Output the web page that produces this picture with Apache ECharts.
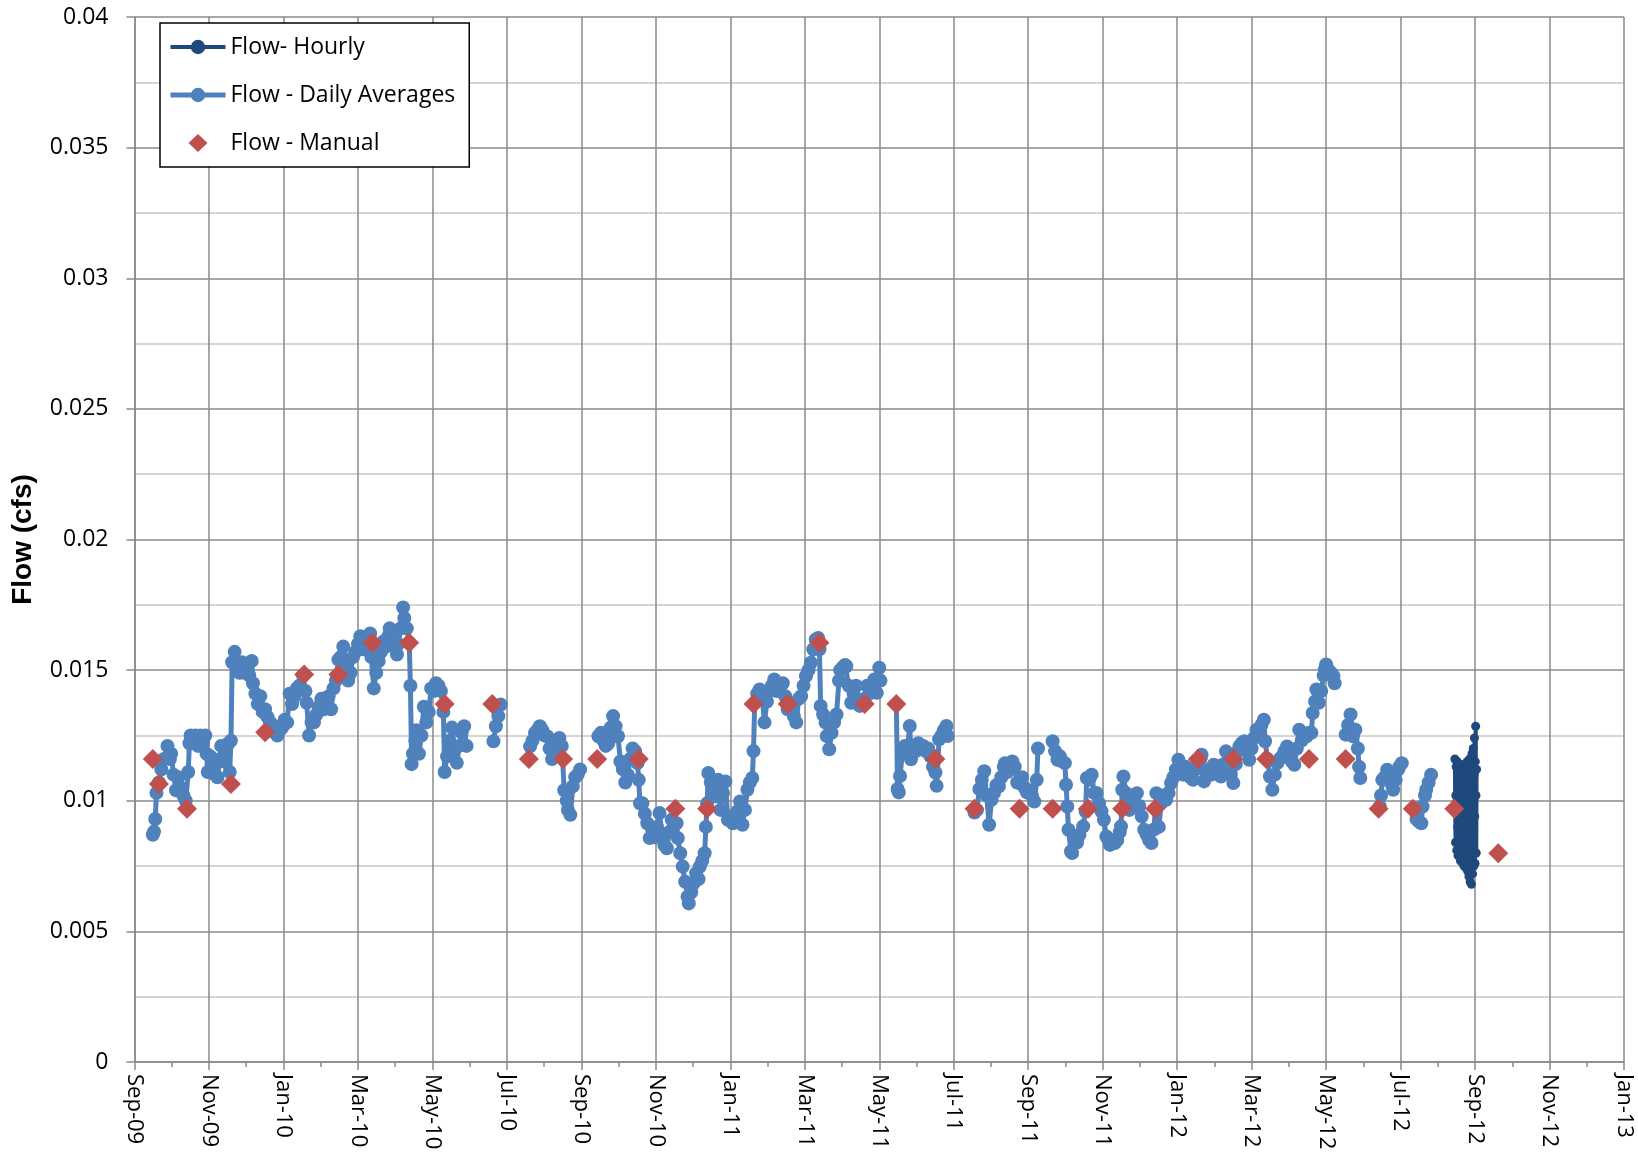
<!DOCTYPE html>
<html>
<head>
<meta charset="utf-8">
<script src="https://cdn.jsdelivr.net/npm/echarts@6/dist/echarts.min.js"></script>
<style>
  body { margin: 0; background: #fff; }
  #chart { width: 1638px; height: 1164px; }
</style>
</head>
<body>
<div id="chart"></div>
<script>
// x values are days counted from 1 Sep 2009, flows are read in thousandths of a cfs
var START = Date.UTC(2009, 8, 1)
var MONTHS = ["Jan","Feb","Mar","Apr","May","Jun","Jul","Aug","Sep","Oct","Nov","Dec"]
var SCALE = 0.001

// daily averages (null = no record, the line breaks there)
var dailyDay = [
  15,16,17,18,20,22,24,27,29,30,32,34,36,38,40,42,44,45,46,48,50,52,54,56,58,59,60,62,64,66,68,70,71,73,75,77,78,79,
  80,82,84,86,88,90,92,94,96,97,99,101,103,105,107,109,111,113,115,117,119,121,123,125,127,129,131,133,135,138,140,141,
  143,145,147,149,151,153,155,157,159,161,163,165,167,169,171,173,175,177,179,181,183,185,187,189,191,193,194,196,198,
  200,202,204,206,208,209,211,213,215,216,218,220,221,223,225,226,227,228,230,231,233,235,237,239,241,243,245,247,249,
  251,253,254,256,258,260,262,264,266,268,270,272,280,
  294,296,298,300,310,
  324,326,328,330,332,334,336,338,340,342,344,346,348,350,352,354,355,357,359,361,363,365,372,
  380,382,384,386,388,390,392,394,396,398,400,402,404,406,408,410,412,413,414,416,418,420,422,424,426,428,430,432,434,
  436,438,440,442,444,445,447,449,451,453,454,456,458,460,462,463,465,467,468,469,470,472,474,476,478,480,482,484,486,
  488,490,492,494,496,498,500,502,504,506,507,508,510,512,514,516,518,520,522,524,526,528,531,533,535,537,540,542,544,
  546,548,550,552,554,556,558,560,561,562,564,566,567,569,571,573,575,577,578,580,582,583,585,587,589,591,594,596,598,
  600,602,604,606,608,610,611,618,
  624,625,626,627,629,631,633,635,636,638,640,642,644,646,648,650,652,654,656,657,659,661,663,665,666,676,
  688,690,692,694,696,698,700,702,704,706,708,710,712,713,715,717,719,721,723,725,727,729,731,733,735,737,739,740,746,
  752,754,756,758,760,762,763,764,765,767,768,770,772,774,777,779,780,782,784,786,788,790,792,794,796,798,799,801,803,
  805,807,808,809,810,812,815,817,819,821,823,825,827,829,831,833,835,837,839,841,843,845,847,849,851,853,855,857,859,
  861,863,865,867,869,871,873,874,876,878,880,882,884,886,888,890,892,894,896,898,900,902,904,905,907,909,911,913,915,
  917,919,921,923,925,926,928,930,932,934,936,938,940,942,944,946,948,950,952,954,956,958,960,962,964,965,967,968,970,
  972,974,975,976,978,980,982,983,988,
  992,994,996,998,1000,1002,1003,1004,1012,
  1020,1021,1022,1024,1026,1028,1030,1031,1033,1035,1036,1038,1043,
  1048,1050,1052,1054,1055,1057,1058,1060,1062
]
var dailyFlow = [
  8.70,8.82,9.30,10.3,10.7,11.2,11.6,12.1,11.6,11.8,11.0,10.4,10.9,10.5,10.2,10.0,11.1,12.2,12.5,12.3,12.5,12.1,12.5,12.2,12.5,11.8,11.1,11.7,11.3,11.0,10.9,11.6,12.1,11.5,11.9,12.2,11.1,12.3,
  15.3,15.7,15.3,14.9,15.3,14.9,15.1,14.8,15.35,14.5,14.1,13.7,14.0,13.4,13.5,13.2,13.0,12.9,12.6,12.5,12.7,12.8,13.1,13.0,14.1,13.7,14.0,14.3,14.4,14.8,14.2,13.75,
  12.5,13.0,13.0,13.3,13.6,13.9,13.5,13.9,14.0,13.5,14.3,14.6,15.4,15.5,15.9,15.2,14.6,14.9,15.5,15.7,16.0,16.3,15.8,16.0,16.2,16.4,15.5,14.3,14.9,
  15.35,15.7,16.1,15.9,16.3,16.6,16.2,15.9,15.6,16.0,16.6,17.4,17.0,16.6,16.05,14.4,11.4,11.8,12.3,12.7,11.8,12.5,13.6,13.0,13.4,14.3,14.2,14.5,14.4,
  14.2,13.4,11.1,11.7,12.3,12.8,12.0,11.45,12.1,12.6,12.85,12.1,null,
  12.28,12.85,13.24,13.68,null,
  12.08,12.3,12.6,12.7,12.85,12.7,12.5,12.47,12.0,11.6,11.9,12.2,12.4,12.1,10.4,10.0,9.65,9.46,10.55,10.9,11.0,11.2,null,
  12.47,12.6,12.3,12.1,12.2,12.8,13.24,12.85,12.47,11.5,11.2,10.7,11.0,11.6,12.0,11.9,11.44,10.8,9.9,9.9,9.5,9.14,8.57,8.89,8.6,9.0,9.53,8.7,8.3,
  8.18,8.8,9.27,9.1,9.14,8.57,7.99,7.48,6.9,6.33,6.07,6.5,6.84,7.23,7.0,7.48,7.7,7.99,9.0,9.9,11.06,10.7,10.6,10.17,10.8,9.65,10.3,10.74,9.27,
  9.4,9.14,9.3,9.6,9.97,9.08,9.65,10.42,10.7,10.87,11.9,13.75,14.1,14.26,14.0,13.0,13.8,14.2,14.4,14.64,14.2,14.4,14.5,14.0,13.5,13.6,13.24,13.0,13.9,
  14.0,14.4,14.77,15.0,15.28,15.8,16.17,16.23,15.8,13.63,13.3,12.99,12.48,11.97,12.6,13.0,13.3,14.6,15.0,15.1,15.2,15.15,14.4,13.75,14.1,14.4,13.63,13.8,13.9,
  14.4,14.1,14.2,14.64,14.13,15.09,14.6,null,
  13.7,10.45,10.32,10.95,11.84,12.1,12.0,12.86,11.59,12.1,11.9,12.2,12.0,12.1,11.9,12.0,11.7,11.3,11.08,10.57,12.35,12.5,12.7,12.86,12.48,null,
  9.55,9.65,10.45,10.8,11.13,10.2,9.08,10.04,10.3,10.6,10.55,10.9,11.3,11.44,11.1,11.3,11.5,11.3,10.7,10.68,10.9,10.5,10.32,10.4,10.2,9.97,10.8,12.0,null,
  12.28,11.9,11.57,11.7,11.5,11.44,10.61,9.78,8.89,8.06,8.0,8.63,8.4,8.7,9.02,9.6,10.87,10.8,11.0,10.29,10.3,9.91,9.6,9.27,8.63,8.5,8.31,8.5,8.38,
  8.5,8.8,9.02,10.42,10.93,10.3,9.65,9.9,10.0,10.29,9.8,9.4,8.89,8.7,8.5,8.38,8.9,10.29,9.0,9.91,10.2,10.04,10.3,10.68,10.9,11.2,11.57,11.2,11.0,
  11.3,11.1,10.9,10.8,11.2,11.4,11.6,11.76,10.74,11.0,11.2,11.0,11.38,11.2,11.0,10.93,11.4,11.89,11.3,11.0,10.68,11.4,11.9,12.08,12.2,12.28,11.9,11.57,12.0,
  12.4,12.72,12.5,12.9,13.1,12.28,11.6,10.93,10.42,11.0,11.44,11.6,11.7,11.9,12.08,11.7,11.5,11.38,12.0,12.72,12.3,12.5,12.47,12.6,12.6,13.36,13.8,14.26,13.75,
  14.2,14.8,15.03,15.22,15.0,14.9,14.77,14.5,null,
  12.53,12.9,13.3,12.47,12.72,12.0,11.3,10.87,null,
  9.78,10.2,10.8,10.9,11.19,10.8,10.6,10.42,10.8,11.19,11.3,11.44,null,
  9.72,9.3,9.2,9.14,9.78,10.2,10.42,10.7,11.0
]

// hourly record at the end (one value every 6 hours from day 1081.5)
var hourlyStart = 1081.5
var hourlyStep = 0.25
var hourlyFlow = [
  11.6,9.8,8.4,10.2, 11.3,9.5,8.1,10.0, 11.5,9.0,7.9,10.4, 11.2,9.4,8.0,10.6,
  11.4,9.1,7.7,10.1, 11.0,8.8,7.8,9.9, 11.3,9.2,7.6,10.3, 11.1,8.9,7.5,9.8,
  11.4,9.3,7.7,10.5, 11.2,9.0,7.4,10.0, 11.5,8.7,7.3,9.7, 11.3,8.5,7.1,10.2,
  11.6,8.6,6.9,9.9, 11.4,8.3,6.8,10.4, 11.8,8.8,7.2,10.6, 12.0,9.1,7.5,11.0,
  12.4,9.4,7.6,11.5, 12.85,10.2,8.0,11.2
]

// manual measurements
var manualDay = [15,20,43,79,107,139,167,195,225,254,293,323,351,379,413,443,469,507,535,561,598,624,656,688,725,752,781,809,836,871,900,927,962,992,1019,1047,1081,1117]
var manualFlow = [11.6,10.64,9.69,10.64,12.62,14.83,14.83,16.05,16.05,13.7,13.7,11.6,11.6,11.6,11.6,9.69,9.69,13.7,13.7,16.05,13.7,13.7,11.6,9.69,9.69,9.69,9.69,9.69,9.69,11.6,11.6,11.6,11.6,11.6,9.69,9.69,9.69,7.99]

function toPair(x, v) {
    return [x, v == null ? "-" : v * SCALE]
}

var dailyData = dailyFlow.map((v, i) => toPair(dailyDay[i], v))
var hourlyData = hourlyFlow.map((v, i) => toPair(hourlyStart + i * hourlyStep, v))
var manualData = manualFlow.map((v, i) => toPair(manualDay[i], v))

function dayLabel(d) {
    var dt = new Date(START + d * 86400000)
    return MONTHS[dt.getUTCMonth()] + "-" + String(dt.getUTCFullYear() % 100).padStart(2, "0")
}

var gridGray = "#8a8a8a"
var tickFont = "Open Sans"
// diamond centred in a 55x18 legend box so it is not stretched
var diamondIcon = "path://M0,9L0.01,9M27.5,0L37,9L27.5,18L18,9ZM54.99,9L55,9"

var chart = echarts.init(document.querySelector("#chart"))
var option = {
    animation: false,
    backgroundColor: "#fff",
    grid: {
        left: 134.5,
        right: 14,
        top: 17,
        bottom: 102,
        outerBoundsMode: "none",
    },
    legend: {
        orient: "vertical",
        left: 160,
        top: 23,
        padding: [10, 14, 10, 8],
        itemWidth: 55,
        itemHeight: 18,
        itemGap: 20,
        backgroundColor: "#fff",
        borderColor: "#000",
        borderWidth: 1.5,
        lineStyle: { width: "inherit" },
        textStyle: { fontFamily: tickFont, fontSize: 23, color: "#000", lineHeight: 28 },
        data: [
            "Flow- Hourly",
            "Flow - Daily Averages",
            { name: "Flow - Manual", icon: diamondIcon },
        ],
    },
    xAxis: {
        type: "value",
        min: 0,
        max: 1220,
        interval: 61,
        axisLine: { lineStyle: { color: gridGray, width: 1.5 } },
        axisTick: { show: true, length: 8, lineStyle: { color: gridGray, width: 1.5 } },
        minorTick: { show: true, splitNumber: 2, length: 5, lineStyle: { color: gridGray, width: 1.5 } },
        splitLine: { show: true, lineStyle: { color: gridGray, width: 1.5 } },
        axisLabel: {
            rotate: -90,
            margin: 12,
            fontFamily: tickFont,
            fontSize: 22,
            color: "#000",
            formatter: dayLabel,
        },
    },
    yAxis: {
        type: "value",
        min: 0,
        max: 0.04,
        interval: 0.005,
        name: "Flow (cfs)",
        nameLocation: "middle",
        nameGap: 97,
        nameTextStyle: { fontFamily: "Liberation Sans", fontWeight: "bold", fontSize: 28, color: "#000" },
        axisLine: { show: true, lineStyle: { color: gridGray, width: 1.5 } },
        axisTick: { show: true, length: 8, lineStyle: { color: gridGray, width: 1.5 } },
        minorTick: { show: false, splitNumber: 2 },
        splitLine: { show: true, lineStyle: { color: gridGray, width: 1.5 } },
        minorSplitLine: { show: true, lineStyle: { color: "#c8c8c8", width: 1.5 } },
        axisLabel: {
            margin: 26,
            fontFamily: tickFont,
            fontSize: 23,
            color: "#000",
            formatter: (v) => String(+v.toFixed(4)),
        },
    },
    series: [
        {
            name: "Flow- Hourly",
            type: "line",
            data: hourlyData,
            symbol: "circle",
            symbolSize: 9,
            showAllSymbol: true,
            itemStyle: { color: "#1F497D" },
            lineStyle: { width: 4, color: "#1F497D" },
            z: 3,
        },
        {
            name: "Flow - Daily Averages",
            type: "line",
            data: dailyData,
            symbol: "circle",
            symbolSize: 14,
            showAllSymbol: true,
            connectNulls: false,
            itemStyle: { color: "#4F81BD" },
            lineStyle: { width: 5, color: "#4F81BD" },
            z: 2,
        },
        {
            name: "Flow - Manual",
            type: "scatter",
            data: manualData,
            symbol: "diamond",
            symbolSize: 20,
            itemStyle: { color: "#C0504D", opacity: 1 },
            z: 4,
        },
    ],
}
chart.setOption(option)
</script>
</body>
</html>
